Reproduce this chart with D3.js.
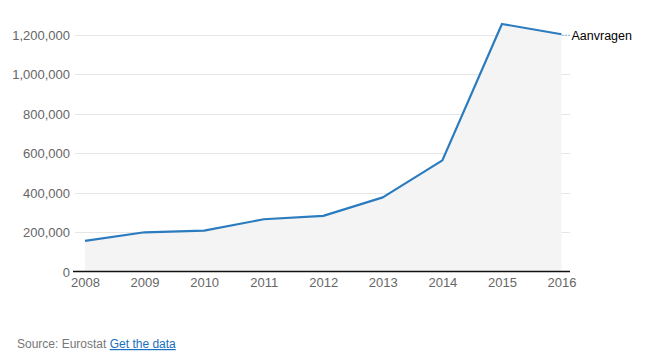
<!DOCTYPE html>
<html>
<head>
<meta charset="utf-8">
<script src="https://cdn.jsdelivr.net/npm/d3@7"></script>
<style>
  body { margin: 0; background: #fff; }
  svg { display: block; font-family: "Liberation Sans", Arial, sans-serif; }
</style>
</head>
<body>
<svg></svg>
<script>

var years = [2008, 2009, 2010, 2011, 2012, 2013, 2014, 2015, 2016];
var aanvragen = [155000, 199000, 207000, 265000, 282000, 376000, 564000, 1256000, 1204000];
var yTicks = [0, 200000, 400000, 600000, 800000, 1000000, 1200000];
var seriesName = "Aanvragen";

var width = 650, height = 364;

var svg = d3.select('svg')
    .attr('width', width)
    .attr('height', height);

var xScale = d3.scaleLinear()
    .domain([2008, 2016])
    .range([85, 561.5]);

var yScale = d3.scaleLinear()
    .domain([0, 1200000])
    .range([271.5, 35]);

// gridlines
svg.append("g")
    .selectAll("line")
    .data(yTicks.filter(function(d){ return d > 0; }))
    .enter().append("line")
    .attr("x1", 75)
    .attr("x2", 570)
    .attr("y1", function(d){ return Math.round(yScale(d)) + 0.5; })
    .attr("y2", function(d){ return Math.round(yScale(d)) + 0.5; })
    .style("stroke", "#e6e6e6")
    .style("stroke-width", 1);

// area under line
var area = d3.area()
    .x(function(d, i){ return xScale(years[i]); })
    .y0(yScale(0))
    .y1(function(d){ return yScale(d); });

svg.append("path")
    .datum(aanvragen)
    .attr("d", area)
    .attr("fill", "#f4f4f4");

// y labels
var y_axis = d3.axisLeft(yScale)
    .tickValues(yTicks)
    .tickSize(0)
    .tickPadding(0)
    .tickFormat(d3.format(","));

svg.append("g")
    .attr("transform", "translate(70,0)")
    .call(y_axis)
    .call(function(g){ g.select(".domain").remove(); })
    .selectAll("text")
    .attr("dy", "0.35em")
    .style("font-size", "13px")
    .style("font-family", "'Liberation Sans', Arial, sans-serif")
    .attr("fill", "#666");

// x labels
var x_axis = d3.axisBottom(xScale)
    .tickValues(years)
    .tickSize(0)
    .tickPadding(6)
    .tickFormat(d3.format("d"));

svg.append("g")
    .attr("transform", "translate(0," + yScale(0) + ")")
    .call(x_axis)
    .call(function(g){ g.select(".domain").remove(); })
    .selectAll("text")
    .style("font-size", "13px")
    .style("font-family", "'Liberation Sans', Arial, sans-serif")
    .attr("fill", "#666");

// baseline
svg.append("line")
    .attr("x1", 73)
    .attr("x2", 570)
    .attr("y1", yScale(0))
    .attr("y2", yScale(0))
    .style("stroke", "#111")
    .style("stroke-width", 1.5);

// line
var line = d3.line()
    .x(function(d, i){ return xScale(years[i]); })
    .y(function(d){ return yScale(d); });

svg.append("path")
    .datum(aanvragen)
    .attr("d", line)
    .attr("fill", "none")
    .style("stroke", "#2b7bbf")
    .style("stroke-width", 2.2)
    .style("stroke-linejoin", "round");

// end label
var last = aanvragen.length - 1;
svg.append("line")
    .attr("x1", xScale(years[last]) + 1)
    .attr("x2", xScale(years[last]) + 8)
    .attr("y1", yScale(aanvragen[last]) + 1)
    .attr("y2", yScale(aanvragen[last]) + 1)
    .style("stroke", "#2b7bbf")
    .style("stroke-width", 1)
    .style("stroke-dasharray", "1,2");

svg.append("text")
    .attr("x", xScale(years[last]) + 10)
    .attr("y", yScale(aanvragen[last]) + 1)
    .attr("dy", "0.35em")
    .style("font-size", "12.5px")
    .attr("fill", "#000")
    .text(seriesName);

// source
var src = svg.append("text")
    .attr("x", 17)
    .attr("y", 348)
    .style("font-size", "12px");

src.append("tspan")
    .attr("fill", "#777")
    .text("Source: Eurostat ");

src.append("tspan")
    .attr("fill", "#1a6fbf")
    .style("text-decoration", "underline")
    .text("Get the data");

</script>
</body>
</html>
